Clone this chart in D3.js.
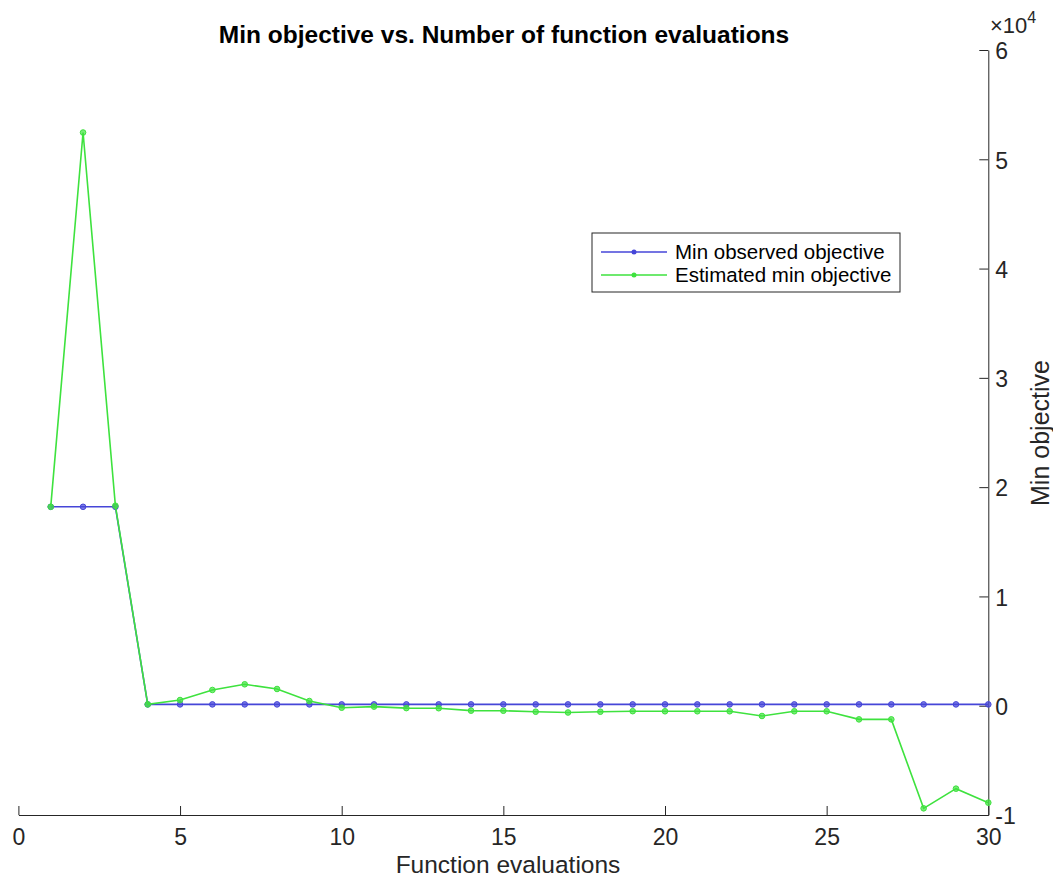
<!DOCTYPE html>
<html>
<head>
<meta charset="utf-8">
<script src="https://cdn.jsdelivr.net/npm/d3@7/dist/d3.min.js"></script>
<style>
    body { margin: 0; background: #fff; }
    svg { display: block; font-family: "Liberation Sans", Arial, sans-serif; }
    .axis path, .axis line { stroke: #262626; }
    .axis text { fill: #262626; }
</style>
</head>
<body>
<svg width="1053" height="879"></svg>
<script>
// function evaluation index
const evals = d3.range(1, 31);

// values
const minObserved = [18200, 18200, 18200, 120, 120, 120, 120, 120, 120, 120,
                     120, 120, 120, 120, 120, 120, 120, 120, 120, 120,
                     120, 120, 120, 120, 120, 120, 120, 120, 120, 120];
const estimatedMin = [18200, 52450, 18300, 120, 520, 1440, 1960, 1530, 430, -180,
                      -80, -220, -230, -450, -460, -550, -620, -550, -500, -510,
                      -510, -510, -940, -510, -510, -1250, -1250, -9390, -7590, -8870];

const xTicks = [0, 5, 10, 15, 20, 25, 30];
const yTicks = [-10000, 0, 10000, 20000, 30000, 40000, 50000, 60000];

const seriesNames = ["Min observed objective", "Estimated min objective"];
const seriesColors = ["#4646d8", "#3ee23e"];

const svg = d3.select("svg");

const x = d3.scaleLinear().domain([0, 30]).range([18.4, 988.3]);
const y = d3.scaleLinear().domain([-10000, 60000]).range([815, 50]);

// x axis along the bottom, ticks pointing inward
svg.append("g")
    .attr("class", "axis")
    .attr("transform", "translate(0,815)")
    .call(d3.axisTop(x).tickValues(xTicks).tickSize(9).tickSizeOuter(0).tickFormat(d3.format("d")))
    .call(g => g.selectAll("text")
        .attr("y", 30)
        .attr("dy", 0)
        .style("font-size", "23px"));

// y axis on the right, ticks pointing inward
svg.append("g")
    .attr("class", "axis")
    .attr("transform", "translate(988.3,0)")
    .call(d3.axisLeft(y).tickValues(yTicks).tickSize(9).tickSizeOuter(0).tickFormat(d => d / 10000))
    .call(g => g.selectAll("text")
        .attr("x", 7)
        .attr("text-anchor", "start")
        .attr("dy", "0.38em")
        .style("font-size", "23px"));

// exponent label
const expo = svg.append("text")
    .attr("x", 990)
    .attr("y", 33)
    .attr("fill", "#262626")
    .style("font-size", "22px");
expo.append("tspan").text("\u00d710");
expo.append("tspan").attr("dy", -10).style("font-size", "16px").text("4");

const line = d3.line().x((d, i) => x(evals[i])).y(d => y(d));

[minObserved, estimatedMin].forEach((vals, k) => {
    svg.append("path")
        .datum(vals)
        .attr("d", line)
        .attr("fill", "none")
        .attr("stroke", seriesColors[k])
        .attr("stroke-width", 1.6);
    svg.append("g")
        .selectAll("circle")
        .data(vals)
        .enter()
        .append("circle")
            .attr("cx", (d, i) => x(evals[i]))
            .attr("cy", d => y(d))
            .attr("r", 2.8)
            .attr("fill", seriesColors[k])
            .attr("fill-opacity", 0.7)
            .attr("stroke", seriesColors[k])
            .attr("stroke-width", 1);
});

// title and labels
svg.append("text")
    .attr("x", 504)
    .attr("y", 43)
    .attr("text-anchor", "middle")
    .attr("font-weight", "bold")
    .attr("fill", "#000")
    .style("font-size", "24.5px")
    .text("Min objective vs. Number of function evaluations");

svg.append("text")
    .attr("x", 508)
    .attr("y", 873)
    .attr("text-anchor", "middle")
    .attr("fill", "#262626")
    .style("font-size", "24.5px")
    .text("Function evaluations");

svg.append("text")
    .attr("transform", "translate(1049,433) rotate(-90)")
    .attr("text-anchor", "middle")
    .attr("fill", "#262626")
    .style("font-size", "25px")
    .text("Min objective");

// legend
const legend = svg.append("g").attr("transform", "translate(592,233)");
legend.append("rect")
    .attr("width", 308)
    .attr("height", 59)
    .attr("fill", "#fff")
    .attr("stroke", "#262626")
    .attr("stroke-width", 1);
seriesNames.forEach((name, k) => {
    const row = legend.append("g").attr("transform", "translate(0," + (19 + k * 23) + ")");
    row.append("line")
        .attr("x1", 9).attr("x2", 75)
        .attr("stroke", seriesColors[k])
        .attr("stroke-width", 1.6);
    row.append("circle")
        .attr("cx", 42).attr("r", 2.5)
        .attr("fill", seriesColors[k]);
    row.append("text")
        .attr("x", 83)
        .attr("dy", "0.35em")
        .attr("fill", "#000")
        .style("font-size", "20.5px")
        .text(name);
});
</script>
</body>
</html>
